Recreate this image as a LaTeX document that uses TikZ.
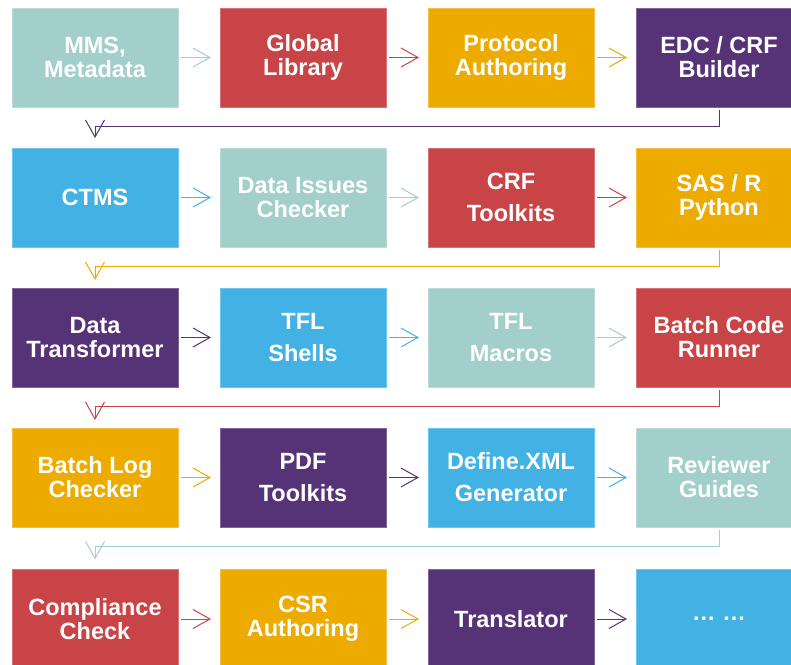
\documentclass[tikz,border=0pt]{standalone}
\usepackage{fontspec}
\setmainfont{Liberation Sans}
\usetikzlibrary{arrows.meta}
\definecolor{mteal}{RGB}{163,207,203}
\definecolor{mred}{RGB}{201,68,70}
\definecolor{mgold}{RGB}{237,171,0}
\definecolor{mpurple}{RGB}{86,50,118}
\definecolor{mblue}{RGB}{65,178,227}
\begin{document}
\begin{tikzpicture}[x=1pt,y=-1pt,
  box/.style={fill=#1,draw=#1!75!white,line width=0.6pt,minimum width=166pt,minimum height=99pt,
    inner sep=0pt,outer sep=0pt,text=white,align=center,font=\bfseries\fontsize{23.5}{24}\selectfont},
  flow/.style={draw=#1,line width=1pt,-{Straight Barb[length=17pt,width=19pt]}}]
\useasboundingbox (0,0) rectangle (791,664);
\clip (0,0) rectangle (791,664);
% row 1
\node[box=mteal] (b11) at (95,57.5) {MMS,\\Metadata};
\node[box=mred] (b12) at (303,57.5) {Global\\Library};
\node[box=mgold] (b13) at (511,57.5) {Protocol\\Authoring};
\node[box=mpurple] (b14) at (719,57.5) {EDC / CRF\\Builder};
% row 2
\node[box=mblue] (b21) at (95,197.5) {CTMS};
\node[box=mteal] (b22) at (303,197.5) {Data Issues\\Checker};
\node[box=mred] (b23) at (511,197.5) {CRF\\[8pt]Toolkits};
\node[box=mgold] (b24) at (719,197.5) {SAS / R\\Python};
% row 3
\node[box=mpurple] (b31) at (95,337.5) {Data\\Transformer};
\node[box=mblue] (b32) at (303,337.5) {TFL\\[8pt]Shells};
\node[box=mteal] (b33) at (511,337.5) {TFL\\[8pt]Macros};
\node[box=mred] (b34) at (719,337.5) {Batch Code\\Runner};
% row 4
\node[box=mgold] (b41) at (95,477.5) {Batch Log\\Checker};
\node[box=mpurple] (b42) at (303,477.5) {PDF\\[8pt]Toolkits};
\node[box=mblue] (b43) at (511,477.5) {Define.XML\\[8pt]Generator};
\node[box=mteal] (b44) at (719,477.5) {Reviewer\\Guides};
% row 5
\node[box=mred] (b51) at (95,619) {Compliance\\Check};
\node[box=mgold] (b52) at (303,619) {CSR\\Authoring};
\node[box=mpurple] (b53) at (511,619) {Translator};
\node[box=mblue] (b54) at (719,619) {… …};
% arrows along each row
\draw[flow=mteal,shorten <=3pt,shorten >=9pt] (b11) -- (b12);
\draw[flow=mred,shorten <=3pt,shorten >=9pt] (b12) -- (b13);
\draw[flow=mgold,shorten <=3pt,shorten >=9pt] (b13) -- (b14);
\draw[flow=mblue,shorten <=3pt,shorten >=9pt] (b21) -- (b22);
\draw[flow=mteal,shorten <=3pt,shorten >=9pt] (b22) -- (b23);
\draw[flow=mred,shorten <=3pt,shorten >=9pt] (b23) -- (b24);
\draw[flow=mpurple,shorten <=3pt,shorten >=9pt] (b31) -- (b32);
\draw[flow=mblue,shorten <=3pt,shorten >=9pt] (b32) -- (b33);
\draw[flow=mteal,shorten <=3pt,shorten >=9pt] (b33) -- (b34);
\draw[flow=mgold,shorten <=3pt,shorten >=9pt] (b41) -- (b42);
\draw[flow=mpurple,shorten <=3pt,shorten >=9pt] (b42) -- (b43);
\draw[flow=mblue,shorten <=3pt,shorten >=9pt] (b43) -- (b44);
\draw[flow=mred,shorten <=3pt,shorten >=9pt] (b51) -- (b52);
\draw[flow=mgold,shorten <=3pt,shorten >=9pt] (b52) -- (b53);
\draw[flow=mpurple,shorten <=3pt,shorten >=9pt] (b53) -- (b54);
% back to the start of the next row
\draw[flow=mpurple] ([yshift=-3pt]b14.south) -- ++(0,16) -| ([yshift=10pt]b21.north);
\draw[flow=mgold] ([yshift=-3pt]b24.south) -- ++(0,16) -| ([yshift=8pt]b31.north);
\draw[flow=mred] ([yshift=-3pt]b34.south) -- ++(0,16) -| ([yshift=8pt]b41.north);
\draw[flow=mteal] ([yshift=-3pt]b44.south) -- ++(0,16) -| ([yshift=10pt]b51.north);
\end{tikzpicture}
\end{document}
